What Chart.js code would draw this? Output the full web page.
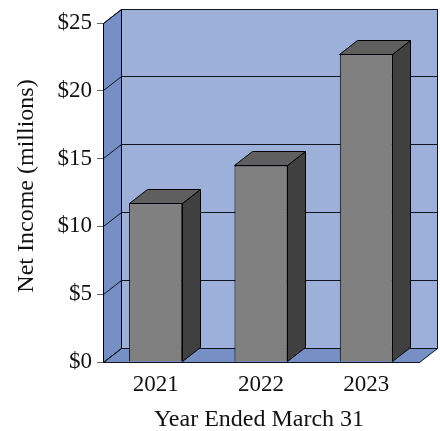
<!DOCTYPE html>
<html>
<head>
<meta charset="utf-8">
<style>html,body{margin:0;padding:0;background:#fff}canvas{display:block}</style>
<script src="https://cdn.jsdelivr.net/npm/chart.js@4"></script>
</head>
<body>
<div style="width:440px;height:431px"><canvas id="c" width="440" height="431"></canvas></div>
<script>
const categories = ['2021', '2022', '2023'];
const netIncome = [11.7, 14.5, 22.7];
const yTickValues = [0, 5, 10, 15, 20, 25];
const yTitle = 'Net Income (millions)';
const xTitle = 'Year Ended March 31';

const FONT = '"Liberation Serif", serif';
const DX = 18, DY = -14;
const WALL = '#9db0d9', SIDE = '#7690c6', LINE = '#10141f';
const BAR_FRONT = '#808080', BAR_SIDE = '#404040', BAR_TOP = '#5f5f5f';
const snap = v => Math.floor(v) + 0.5;

function poly(ctx, pts, fill, stroke) {
  ctx.beginPath();
  pts.forEach((p, i) => i ? ctx.lineTo(p[0], p[1]) : ctx.moveTo(p[0], p[1]));
  ctx.closePath();
  ctx.fillStyle = fill;
  ctx.fill();
  ctx.lineWidth = 1;
  ctx.lineJoin = 'round';
  ctx.strokeStyle = stroke;
  ctx.stroke();
}

const box3d = {
  id: 'box3d',
  beforeDatasetsDraw(chart) {
    const { ctx } = chart;
    const a = chart.chartArea;
    const l = snap(a.left), r = snap(a.right), t = snap(a.top), b = snap(a.bottom);
    ctx.save();
    poly(ctx, [[l + DX, t + DY], [r + DX, t + DY], [r + DX, b + DY], [l + DX, b + DY]], WALL, LINE);
    poly(ctx, [[l, t], [l + DX, t + DY], [l + DX, b + DY], [l, b]], SIDE, '#000');
    poly(ctx, [[l, b], [l + DX, b + DY], [r + DX, b + DY], [r, b]], SIDE, LINE);
    ctx.strokeStyle = LINE;
    ctx.lineWidth = 1;
    const y = chart.scales.y;
    yTickValues.forEach(v => {
      const py = snap(y.getPixelForValue(v));
      ctx.beginPath();
      ctx.moveTo(l, py);
      ctx.lineTo(l + DX, py + DY);
      ctx.lineTo(r + DX, py + DY);
      ctx.stroke();
    });
    ctx.restore();
  },
  afterDatasetsDraw(chart) {
    const { ctx } = chart;
    ctx.save();
    chart.getDatasetMeta(0).data.forEach(bar => {
      const hw = bar.width / 2;
      const x0 = snap(bar.x - hw), x1 = snap(bar.x + hw), t = snap(bar.y), b = snap(bar.base);
      poly(ctx, [[x1, t], [x1 + DX, t + DY], [x1 + DX, b + DY], [x1, b]], BAR_SIDE, '#000');
      poly(ctx, [[x0, t], [x0 + DX, t + DY], [x1 + DX, t + DY], [x1, t]], BAR_TOP, '#000');
    });
    ctx.fillStyle = '#111';
    ctx.font = '24px ' + FONT;
    ctx.textAlign = 'center';
    ctx.textBaseline = 'middle';
    ctx.fillText(xTitle, 259, 420);
    ctx.translate(27, 186);
    ctx.rotate(-Math.PI / 2);
    ctx.fillText(yTitle, 0, 0);
    ctx.restore();
  }
};

new Chart(document.getElementById('c'), {
  type: 'bar',
  data: {
    labels: categories,
    datasets: [{
      data: netIncome,
      backgroundColor: BAR_FRONT,
      borderColor: '#000',
      borderWidth: 1,
      barPercentage: 0.504,
      categoryPercentage: 1
    }]
  },
  plugins: [box3d],
  options: {
    responsive: false,
    animation: false,
    devicePixelRatio: 1,
    layout: { padding: { top: 23, right: 21, left: 0, bottom: 0 } },
    plugins: { legend: { display: false }, tooltip: { enabled: false } },
    scales: {
      x: {
        afterFit(s) { s.height = 69; },
        border: { color: '#000' },
        grid: { display: false },
        ticks: { color: '#111', font: { family: FONT, size: 23 }, padding: 1, maxRotation: 0 }
      },
      y: {
        min: 0,
        max: 25,
        afterFit(s) { s.width = 103; },
        afterBuildTicks(s) { s.ticks = yTickValues.map(v => ({ value: v })); },
        border: { color: '#000' },
        grid: { drawOnChartArea: false, drawTicks: true, tickLength: 6, color: '#666' },
        ticks: { color: '#111', font: { family: FONT, size: 23 }, padding: 5, callback: v => '$' + v }
      }
    }
  }
});
</script>
</body>
</html>
